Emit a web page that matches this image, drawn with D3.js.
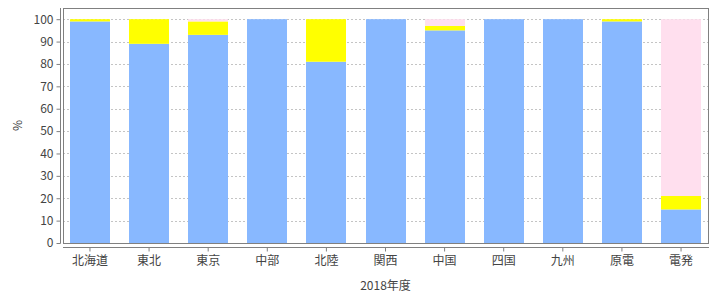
<!DOCTYPE html>
<html>
<head>
<meta charset="utf-8">
<script src="https://cdn.jsdelivr.net/npm/d3@7"></script>
<style>
  body { margin: 0; background: #fff; }
  svg text { font-family: "Noto Sans CJK JP", "Noto Sans", sans-serif; fill: #444; }
</style>
</head>
<body>
<svg width="720" height="300"></svg>
<script>
// data
var regions = ["北海道", "東北", "東京", "中部", "北陸", "関西", "中国", "四国", "九州", "原電", "電発"];
var blueVals   = [99, 89, 93, 100, 81, 100, 95, 100, 100, 99, 15];
var yellowVals = [1, 11, 6, 0, 19, 0, 2, 0, 0, 1, 6];
var pinkVals   = [0, 0, 1, 0, 0, 0, 3, 0, 0, 0, 79];
var yTicks = [0, 10, 20, 30, 40, 50, 60, 70, 80, 90, 100];
var seriesColors = ["#88b8ff", "#ffff00", "#ffdfee"];

var svg = d3.select("svg"),
    plot = {left: 63, right: 708, top: 8, bottom: 243};

var rows = regions.map(function(r, i) {
    return {region: r, a: blueVals[i], b: yellowVals[i], c: pinkVals[i]};
});
var stacked = d3.stack().keys(["a", "b", "c"])(rows);

var x = d3.scaleBand()
    .domain(regions)
    .range([plot.left, plot.right])
    .paddingInner(0.324)
    .paddingOuter(0.118);

var y = d3.scaleLinear()
    .domain([0, 105])
    .range([plot.bottom, plot.top]);

// grid lines
svg.append("g")
    .selectAll("line")
    .data(yTicks)
    .enter().append("line")
    .attr("x1", plot.left)
    .attr("x2", plot.right)
    .attr("y1", function(d) { return Math.round(y(d)) + 0.5; })
    .attr("y2", function(d) { return Math.round(y(d)) + 0.5; })
    .attr("stroke", "#c4c4c4")
    .attr("stroke-dasharray", "2,2");

// bars
svg.append("g")
    .selectAll("g")
    .data(stacked)
    .enter().append("g")
    .attr("fill", function(d, i) { return seriesColors[i]; })
    .selectAll("rect")
    .data(function(d) { return d.filter(function(p) { return p[1] > p[0]; }); })
    .enter().append("rect")
    .attr("x", function(d) { return Math.round(x(d.data.region)); })
    .attr("width", Math.round(x.bandwidth()))
    .attr("y", function(d) { return y(d[1]); })
    .attr("height", function(d) { return y(d[0]) - y(d[1]); });

// plot outline
svg.append("rect")
    .attr("x", plot.left + 0.5)
    .attr("y", plot.top + 0.5)
    .attr("width", plot.right - plot.left)
    .attr("height", plot.bottom - plot.top)
    .attr("fill", "none")
    .attr("stroke", "#808080");

// y axis, offset from the plot
var yAxis = svg.append("g")
    .attr("transform", "translate(60.5,0)")
    .call(d3.axisLeft(y).tickValues(yTicks).tickSize(4).tickPadding(3));
yAxis.select(".domain").attr("stroke", "#808080").attr("d", "M0," + plot.top + "V" + (plot.bottom + 0.5));
yAxis.selectAll(".tick line").attr("stroke", "#808080");
yAxis.selectAll("text").style("font-size", "12px").attr("fill", "#444");

// x axis, offset from the plot
var xAxis = svg.append("g")
    .attr("transform", "translate(0,247.5)")
    .call(d3.axisBottom(x).tickSize(4).tickPadding(5));
xAxis.select(".domain").attr("stroke", "#808080").attr("d", "M" + plot.left + ",0H" + (plot.right + 1));
xAxis.selectAll(".tick line").attr("stroke", "#808080");
xAxis.selectAll("text").style("font-size", "12px").attr("fill", "#444");

// axis titles
svg.append("text")
    .attr("x", (plot.left + plot.right) / 2)
    .attr("y", 290)
    .attr("text-anchor", "middle")
    .style("font-size", "12px")
    .text("2018年度");

svg.append("text")
    .attr("transform", "translate(22," + ((plot.top + plot.bottom) / 2) + ") rotate(-90)")
    .attr("text-anchor", "middle")
    .style("font-size", "12px")
    .text("%");
</script>
</body>
</html>
